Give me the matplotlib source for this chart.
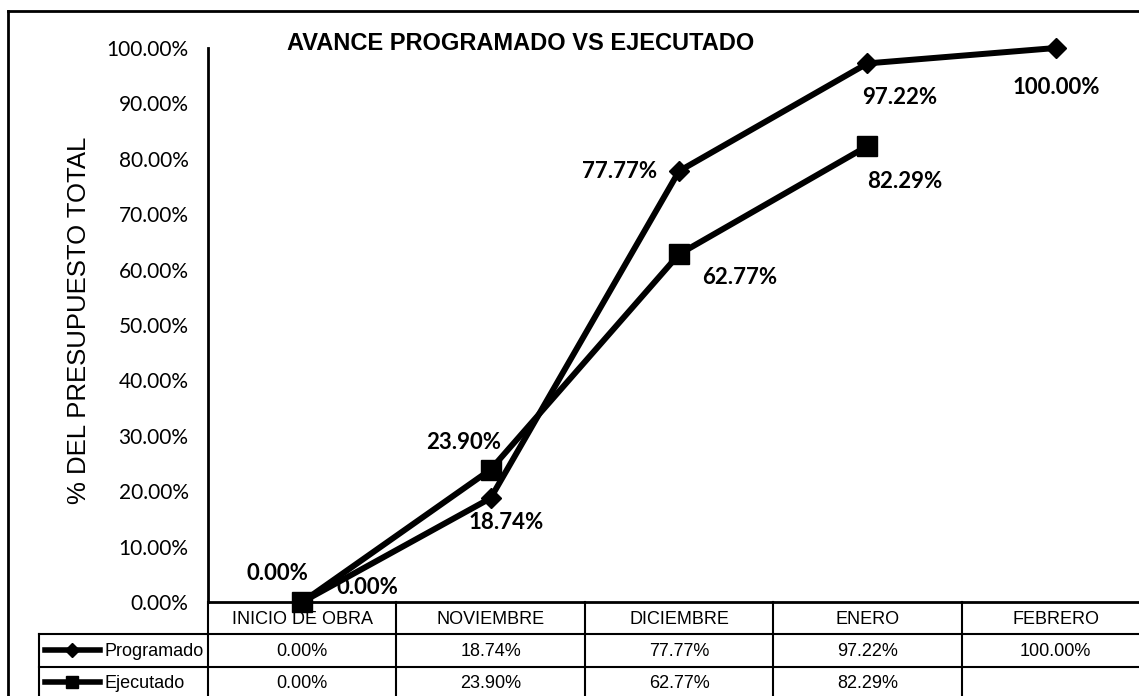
import matplotlib.pyplot as plt
import matplotlib.transforms as mtransforms
from matplotlib.lines import Line2D

# datos
categorias = ["INICIO DE OBRA", "NOVIEMBRE", "DICIEMBRE", "ENERO", "FEBRERO"]
programado = [0.00, 18.74, 77.77, 97.22, 100.00]
ejecutado = [0.00, 23.90, 62.77, 82.29]
y_ticks = [0, 10, 20, 30, 40, 50, 60, 70, 80, 90, 100]

# desplazamiento de las etiquetas (pixeles)
off_prog = [(65, 14), (16, -24), (-59, 0), (32, -34), (0, -40)]
off_ejec = [(-25, 29), (-27, 27), (61, -23), (37, -35)]

W, H = 1139, 696
fig = plt.figure(figsize=(W / 100, H / 100), dpi=100)
fig.patch.set_facecolor("white")


def fx(px):
    return px / W


def fy(py):
    return 1 - py / H


ax = fig.add_axes([fx(208), fy(602), (1150 - 208) / W, (602 - 48) / H])
ax.plot(range(len(programado)), programado, color="black", lw=4.3,
        marker="D", ms=10, mew=1, clip_on=False, zorder=4)
ax.plot(range(len(ejecutado)), ejecutado, color="black", lw=4.3,
        marker="s", ms=14, mew=1, clip_on=False, zorder=4)
ax.set_xlim(-0.5, len(categorias) - 0.5)
ax.set_ylim(0, 100)
ax.set_yticks(y_ticks)
ax.set_yticklabels([f"{v:.2f}%" for v in y_ticks], fontfamily="Lato", fontsize=15)
ax.tick_params(axis="y", length=0, pad=14)
ax.set_xticks([])
ax.spines["top"].set_visible(False)
ax.spines["right"].set_visible(False)
ax.spines["left"].set_linewidth(2)
ax.spines["bottom"].set_linewidth(2)

lbl = dict(textcoords="offset pixels", ha="center", va="center",
           fontfamily="Lato", fontweight="bold", fontsize=16, zorder=5)
for i, v in enumerate(programado):
    ax.annotate(f"{v:.2f}%", (i, v), xytext=off_prog[i], **lbl)
for i, v in enumerate(ejecutado):
    ax.annotate(f"{v:.2f}%", (i, v), xytext=off_ejec[i], **lbl)

# titulo y eje
fig.text(fx(521), fy(43), "AVANCE PROGRAMADO VS EJECUTADO",
         family="Liberation Sans", weight="bold",
         size=17, ha="center", va="center")
fig.text(fx(79), fy(320), "% DEL PRESUPUESTO TOTAL", family="Liberation Sans",
         size=18.5, rotation=90, ha="center", va="center")

# tabla de datos
trans = mtransforms.blended_transform_factory(ax.transData, fig.transFigure)


def hline(x0, x1, y, lw=1.5):
    fig.add_artist(Line2D([fx(x0), fx(x1)], [fy(y), fy(y)],
                          transform=fig.transFigure, color="black", lw=lw))


def vline(x, y0, y1, lw=1.5):
    fig.add_artist(Line2D([fx(x), fx(x)], [fy(y0), fy(y1)],
                          transform=fig.transFigure, color="black", lw=lw))


hline(39, W, 634)
hline(39, W, 667)
vline(39, 634, H)
for k in range(len(categorias) + 1):
    fig.add_artist(Line2D([k - 0.5, k - 0.5], [fy(602), fy(H)], transform=trans,
                          color="black", lw=1.5))

tab = dict(transform=trans, ha="center", va="center",
           family="Liberation Sans", size=13)
for i, c in enumerate(categorias):
    fig.text(i, fy(619), c, **tab)
for i, v in enumerate(programado):
    fig.text(i, fy(651), f"{v:.2f}%", **tab)
for i, v in enumerate(ejecutado):
    fig.text(i, fy(683), f"{v:.2f}%", **tab)

# leyenda dentro de la tabla
for yy, mk, msz, name in [(650, "D", 7, "Programado"), (682, "s", 8, "Ejecutado")]:
    fig.add_artist(Line2D([fx(45), fx(100)], [fy(yy), fy(yy)],
                          transform=fig.transFigure, color="black", lw=4))
    fig.add_artist(Line2D([fx(72)], [fy(yy)], transform=fig.transFigure,
                          color="black", marker=mk, ms=msz))
    fig.text(fx(104), fy(yy + 1), name, ha="left", va="center",
             family="Liberation Sans", size=13)

# marco exterior
hline(8, W, 11, lw=2)
vline(8, 11, H, lw=2)

fig.savefig("out.png", dpi=100)
